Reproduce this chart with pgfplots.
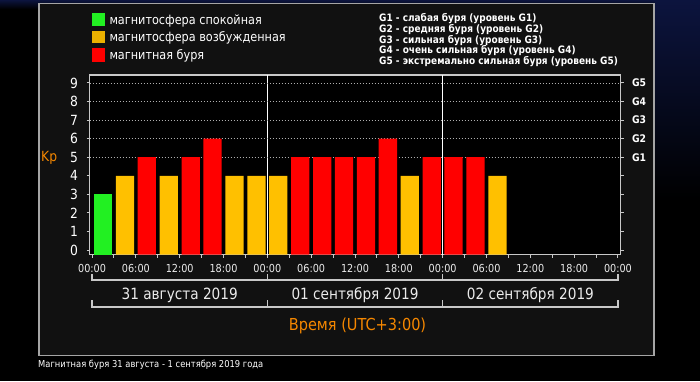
\documentclass[border=0pt]{standalone}
\usepackage{pgfplots}
\pgfplotsset{compat=1.18}
\usepackage{fontspec}
\setmainfont{DejaVu Sans}[FakeStretch=0.88]
\definecolor{panel}{RGB}{17,17,17}
\definecolor{pborder}{RGB}{165,165,165}
\definecolor{aline}{RGB}{200,200,200}
\definecolor{gridc}{RGB}{175,175,175}
\definecolor{kpgreen}{RGB}{34,240,34}
\definecolor{kpyellow}{RGB}{255,192,0}
\definecolor{kpred}{RGB}{255,0,0}
\definecolor{orng}{RGB}{245,135,0}
\definecolor{navy}{RGB}{12,20,62}
\definecolor{txt}{RGB}{235,235,235}
\newcommand{\fs}[1]{\fontsize{#1bp}{#1bp}\selectfont}
\begin{document}
\begin{tikzpicture}[x=1bp,y=1bp]
\fill[black] (0,0) rectangle (700,381);
\shade[top color=navy, bottom color=black] (0,372) rectangle (700,381);
\shade[top color=navy, bottom color=black] (655,180) rectangle (700,381);
\filldraw[fill=panel, draw=pborder, line width=1.5bp] (39,25.5) rectangle (654,377.5);
% legend left
\fill[kpgreen] (92.3,355) rectangle (105,368.3);
\fill[kpyellow!92!black] (92.3,337.7) rectangle (105,350.3);
\fill[kpred] (92.3,319.3) rectangle (105,332.7);
\node[anchor=base west, inner sep=0pt, text=white, font=\fs{12.8}] at (109.3,356.7) {магнитосфера спокойная};
\node[anchor=base west, inner sep=0pt, text=white, font=\fs{12.8}] at (109.3,340) {магнитосфера возбужденная};
\node[anchor=base west, inner sep=0pt, text=white, font=\fs{12.8}] at (109.3,322) {магнитная буря};
% legend right
\node[anchor=base west, inner sep=0pt, text=white, font=\fs{10.2}\bfseries] at (379,359.3) {G1 - слабая буря (уровень G1)};
\node[anchor=base west, inner sep=0pt, text=white, font=\fs{10.2}\bfseries] at (379,348.65) {G2 - средняя буря (уровень G2)};
\node[anchor=base west, inner sep=0pt, text=white, font=\fs{10.2}\bfseries] at (379,338) {G3 - сильная буря (уровень G3)};
\node[anchor=base west, inner sep=0pt, text=white, font=\fs{10.2}\bfseries] at (379,327.35) {G4 - очень сильная буря (уровень G4)};
\node[anchor=base west, inner sep=0pt, text=white, font=\fs{10.2}\bfseries] at (379,316.7) {G5 - экстремально сильная буря (уровень G5)};
% Kp
\node[anchor=base west, inner sep=0pt, text=orng, font=\fs{14}] at (41,220) {Kp};
\begin{axis}[
  at={(89.5bp,126.5bp)}, anchor=south west,
  width=531bp, height=179.5bp, scale only axis,
  xmin=-0.35, xmax=72.35, ymin=-0.24, ymax=9.43,
  y coord trafo/.code={\pgfmathparse{#1+0.24}},
  y coord inv trafo/.code={\pgfmathparse{#1-0.24}},
  axis background/.style={fill=black},
  axis line style={aline, line width=1.2bp},
  every tick/.style={aline, line width=1bp},
  tick align=outside,
  major tick length=3bp, minor tick length=3bp,
  xtick={0,6,...,72},
  xticklabels={00:00,06:00,12:00,18:00,00:00,06:00,12:00,18:00,00:00,06:00,12:00,18:00,00:00},
  minor xtick={3,9,...,69},
  xtick pos=bottom,
  ytick={0,...,9},
  ytick pos=both, yticklabel pos=left,
  /pgf/number format/assume math mode=true,
  yticklabel style={text=white, font=\fs{14}, xshift=-5bp},
  xticklabel style={text=txt, font=\fs{11}, yshift=-3.5bp},
  extra y ticks={5,6,7,8,9}, extra y tick labels={},
  extra y tick style={grid=major, major tick length=0pt},
  extra x ticks={24,48}, extra x tick labels={},
  extra x tick style={grid=major, major grid style={white, solid, line width=1bp}, major tick length=0pt},
  grid style={gridc, dash pattern=on 1bp off 2bp, line width=0.9bp},
  clip=false,
]
\addplot[ybar, bar width=2.5, bar shift=0pt, fill=kpgreen, draw=none] coordinates {(1.5,3)};
\addplot[ybar, bar width=2.5, bar shift=0pt, fill=kpyellow, draw=none] coordinates {
(4.5,4) (10.5,4) (19.5,4) (22.5,4) (25.5,4) (43.5,4) (55.5,4)};
\addplot[ybar, bar width=2.5, bar shift=0pt, fill=kpred, draw=none] coordinates {
(7.5,5) (13.5,5) (16.5,6) (28.5,5) (31.5,5) (34.5,5) (37.5,5) (40.5,6) (46.5,5) (49.5,5) (52.5,5)};
\end{axis}
\begin{axis}[
  at={(89.5bp,126.5bp)}, anchor=south west,
  width=531bp, height=179.5bp, scale only axis,
  xmin=-0.35, xmax=72.35, ymin=-0.24, ymax=9.43,
  hide x axis, axis y line*=right, y axis line style={draw=none},
  ytick={5,...,9}, yticklabels={G1,G2,G3,G4,G5}, major tick length=0pt,
  yticklabel style={text=white, font=\fs{10.5}\bfseries, anchor=west, xshift=8bp},
]
\end{axis}
% brackets
\draw[aline, line width=1.3bp] (92.06,107) -- (92.06,101) -- (618,101) -- (618,107);
\draw[aline, line width=1.3bp] (267.4,101) -- (267.4,107) (442.7,101) -- (442.7,107);
\draw[aline, line width=1.3bp] (92.06,81) -- (92.06,74) -- (618,74) -- (618,81);
\draw[aline, line width=1.3bp] (267.4,74) -- (267.4,81) (442.7,74) -- (442.7,81);
\node[anchor=base, inner sep=0pt, text=txt, font=\fs{15.5}] at (179.7,82) {31 августа 2019};
\node[anchor=base, inner sep=0pt, text=txt, font=\fs{15.5}] at (355,82) {01 сентября 2019};
\node[anchor=base, inner sep=0pt, text=txt, font=\fs{15.5}] at (530.4,82) {02 сентября 2019};
\node[anchor=base, inner sep=0pt, text=orng, font=\fs{16.5}] at (357.5,51) {Время (UTC+3:00)};
\node[anchor=base west, inner sep=0pt, text=white, font=\fs{9.5}] at (38,13.3) {Магнитная буря 31 августа - 1 сентября 2019 года};
\end{tikzpicture}
\end{document}
